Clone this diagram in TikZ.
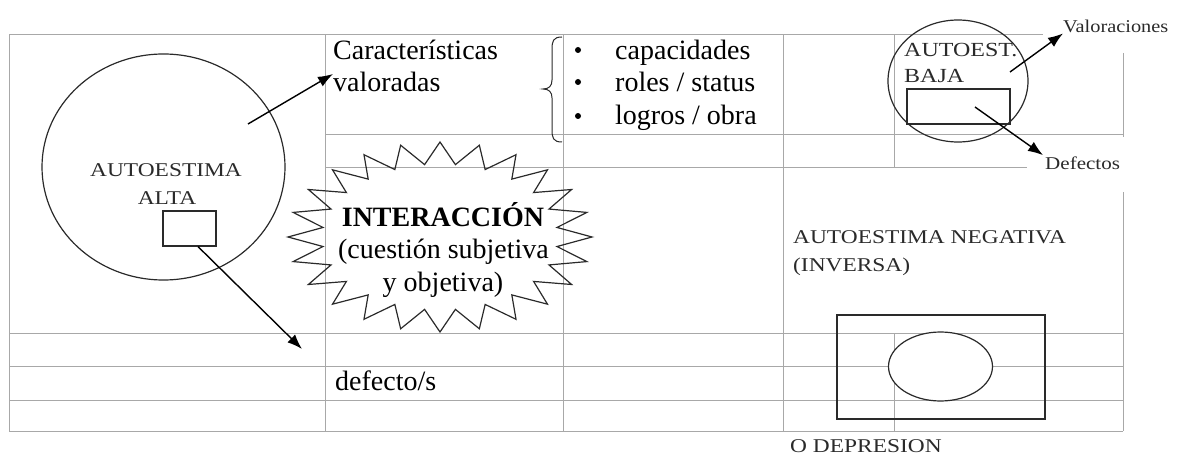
\documentclass[tikz,border=0pt]{standalone}
\usepackage{fontspec}
\setmainfont{Liberation Serif}
\usepackage{graphicx}
\usetikzlibrary{arrows.meta,shapes.geometric}
\definecolor{gridgray}{HTML}{A8A8A8}
\definecolor{ink}{HTML}{2A2A2A}
\newcommand{\wtxt}[2][1.2]{\scalebox{#1}[1]{#2}}
\tikzset{
  gridline/.style={draw=gridgray, line width=1pt},
  outline/.style={draw=ink, line width=1.2pt},
  arr/.style={draw=black, line width=1.4pt, -{Latex[length=15pt,width=11pt]}},
  widetext/.style={font=\fontsize{19.5}{22}\selectfont, inner sep=0pt, text=ink},
  smalltext/.style={font=\fontsize{18}{20}\selectfont, inner sep=0pt, text=ink},
  bodytext/.style={font=\fontsize{28}{32}\selectfont, inner sep=0pt, text=black},
  boldtext/.style={font=\fontsize{28}{32}\selectfont\bfseries, inner sep=0pt, text=black},
  bulletdot/.style={circle, fill=black, inner sep=0pt, minimum size=6pt},
}
\begin{document}
\begin{tikzpicture}[x=1pt, y=-1pt]
\useasboundingbox (0,0) rectangle (1179,457);
% ---------- table grid ----------
\draw[gridline] (9,35) -- (1043,35);
\draw[gridline] (325,135) -- (1123,135);
\draw[gridline] (325,168) -- (1027,168);
\draw[gridline] (9,334) -- (1123,334);
\draw[gridline] (9,366) -- (1123,366);
\draw[gridline] (9,400) -- (1123,400);
\draw[gridline] (9,431) -- (1123,431);
\draw[gridline] (9,35) -- (9,431);
\draw[gridline] (325,35) -- (325,431);
\draw[gridline] (563,35) -- (563,431);
\draw[gridline] (783,35) -- (783,431);
\draw[gridline] (894,35) -- (894,168);
\draw[gridline] (894,334) -- (894,431);
\draw[gridline] (1123,53) -- (1123,137);
\draw[gridline] (1123,192) -- (1123,431);

% ---------- left: AUTOESTIMA ALTA ----------
\node[outline, ellipse, minimum width=243pt, minimum height=226pt, inner sep=0pt] (alta) at (163.5,167) {};
\node[widetext, anchor=base] (altat1) at (166,177) {\wtxt{AUTOESTIMA}};
\node[widetext, anchor=base] (altat2) at (167,205) {\wtxt{ALTA}};
\node[outline, rectangle, minimum width=53pt, minimum height=35pt, inner sep=0pt] (altabox) at (189.5,228.5) {};
\coordinate (altaout) at (248,124);
\coordinate (valtip) at (333,74);
\coordinate (deftip) at (302,349);
\draw[arr] (altaout) -- (valtip);
\draw[arr] ([xshift=8.5pt]altabox.south) -- (deftip);

% ---------- characteristics ----------
\node[bodytext, anchor=base west] (carac) at (333,60) {Características};
\node[bodytext, anchor=base west] (valor) at (333,92) {valoradas};
\draw[ink, line width=1pt] (562,37) .. controls (553,37) and (552,41) .. (552,50)
  -- (552,80) .. controls (552,86) and (549,89) .. (543,89)
  .. controls (549,89) and (552,92) .. (552,98)
  -- (552,129) .. controls (552,138) and (553,142) .. (562,142);
\node[bulletdot] (b1) at (578,50) {};
\node[bulletdot] (b2) at (578,82) {};
\node[bulletdot] (b3) at (578,116) {};
\node[bodytext, anchor=base west] (cap) at (615,60) {capacidades};
\node[bodytext, anchor=base west] (rol) at (615,92) {roles / status};
\node[bodytext, anchor=base west] (log) at (615,125) {logros / obra};

% ---------- starburst ----------
\draw[outline, line join=miter] plot[samples at={0,...,47}, variable=\i]
  ({440+(mod(\i,2)==0 ? 152 : 118)*cos(\i*7.5)}, {237+(mod(\i,2)==0 ? 95 : 73)*sin(\i*7.5)}) -- cycle;
\node[boldtext, anchor=base] (inter) at (443,227) {INTERACCIÓN};
\node[bodytext, anchor=base] (cuest) at (443.5,259) {(cuestión subjetiva};
\node[bodytext, anchor=base] (yobj) at (443,292) {y objetiva)};
\node[bodytext, anchor=base west] (defs) at (335,390) {defecto/s};

% ---------- top right: AUTOEST. BAJA ----------
\node[outline, ellipse, minimum width=140pt, minimum height=122pt, inner sep=0pt] (baja) at (958,81) {};
\node[widetext, font=\fontsize{20}{22}\selectfont, anchor=base west] (bajat1) at (904,57) {\wtxt{AUTOEST.}};
\node[widetext, font=\fontsize{20}{22}\selectfont, anchor=base west] (bajat2) at (904,83) {\wtxt{BAJA}};
\node[outline, rectangle, minimum width=103pt, minimum height=35pt, inner sep=0pt] (bajabox) at (958.5,106.5) {};
\coordinate (bajaout) at (1010,72);
\coordinate (bajain) at (975,107);
\node[smalltext, anchor=base west] (valoraciones) at (1063,33) {\wtxt[1.13]{Valoraciones}};
\node[smalltext, anchor=base west] (defectos) at (1045,170) {\wtxt[1.17]{Defectos}};
\draw[arr] (bajaout) -- (valoraciones.south west);
\draw[arr] (bajain) -- ([xshift=-2pt,yshift=2pt]defectos.north west);

% ---------- bottom right: AUTOESTIMA NEGATIVA ----------
\node[widetext, anchor=base west] (neg1) at (793,244) {\wtxt{AUTOESTIMA NEGATIVA}};
\node[widetext, anchor=base west] (neg2) at (793,272) {\wtxt{(INVERSA)}};
\node[outline, rectangle, minimum width=208pt, minimum height=104pt, inner sep=0pt] (negbox) at (941,367) {};
\node[outline, ellipse, fill=white, minimum width=104pt, minimum height=69pt, inner sep=0pt] (negell) at (940.5,366.5) {};
\node[widetext, anchor=base west] (depr) at (790,452) {\wtxt{O DEPRESION}};
\end{tikzpicture}
\end{document}
